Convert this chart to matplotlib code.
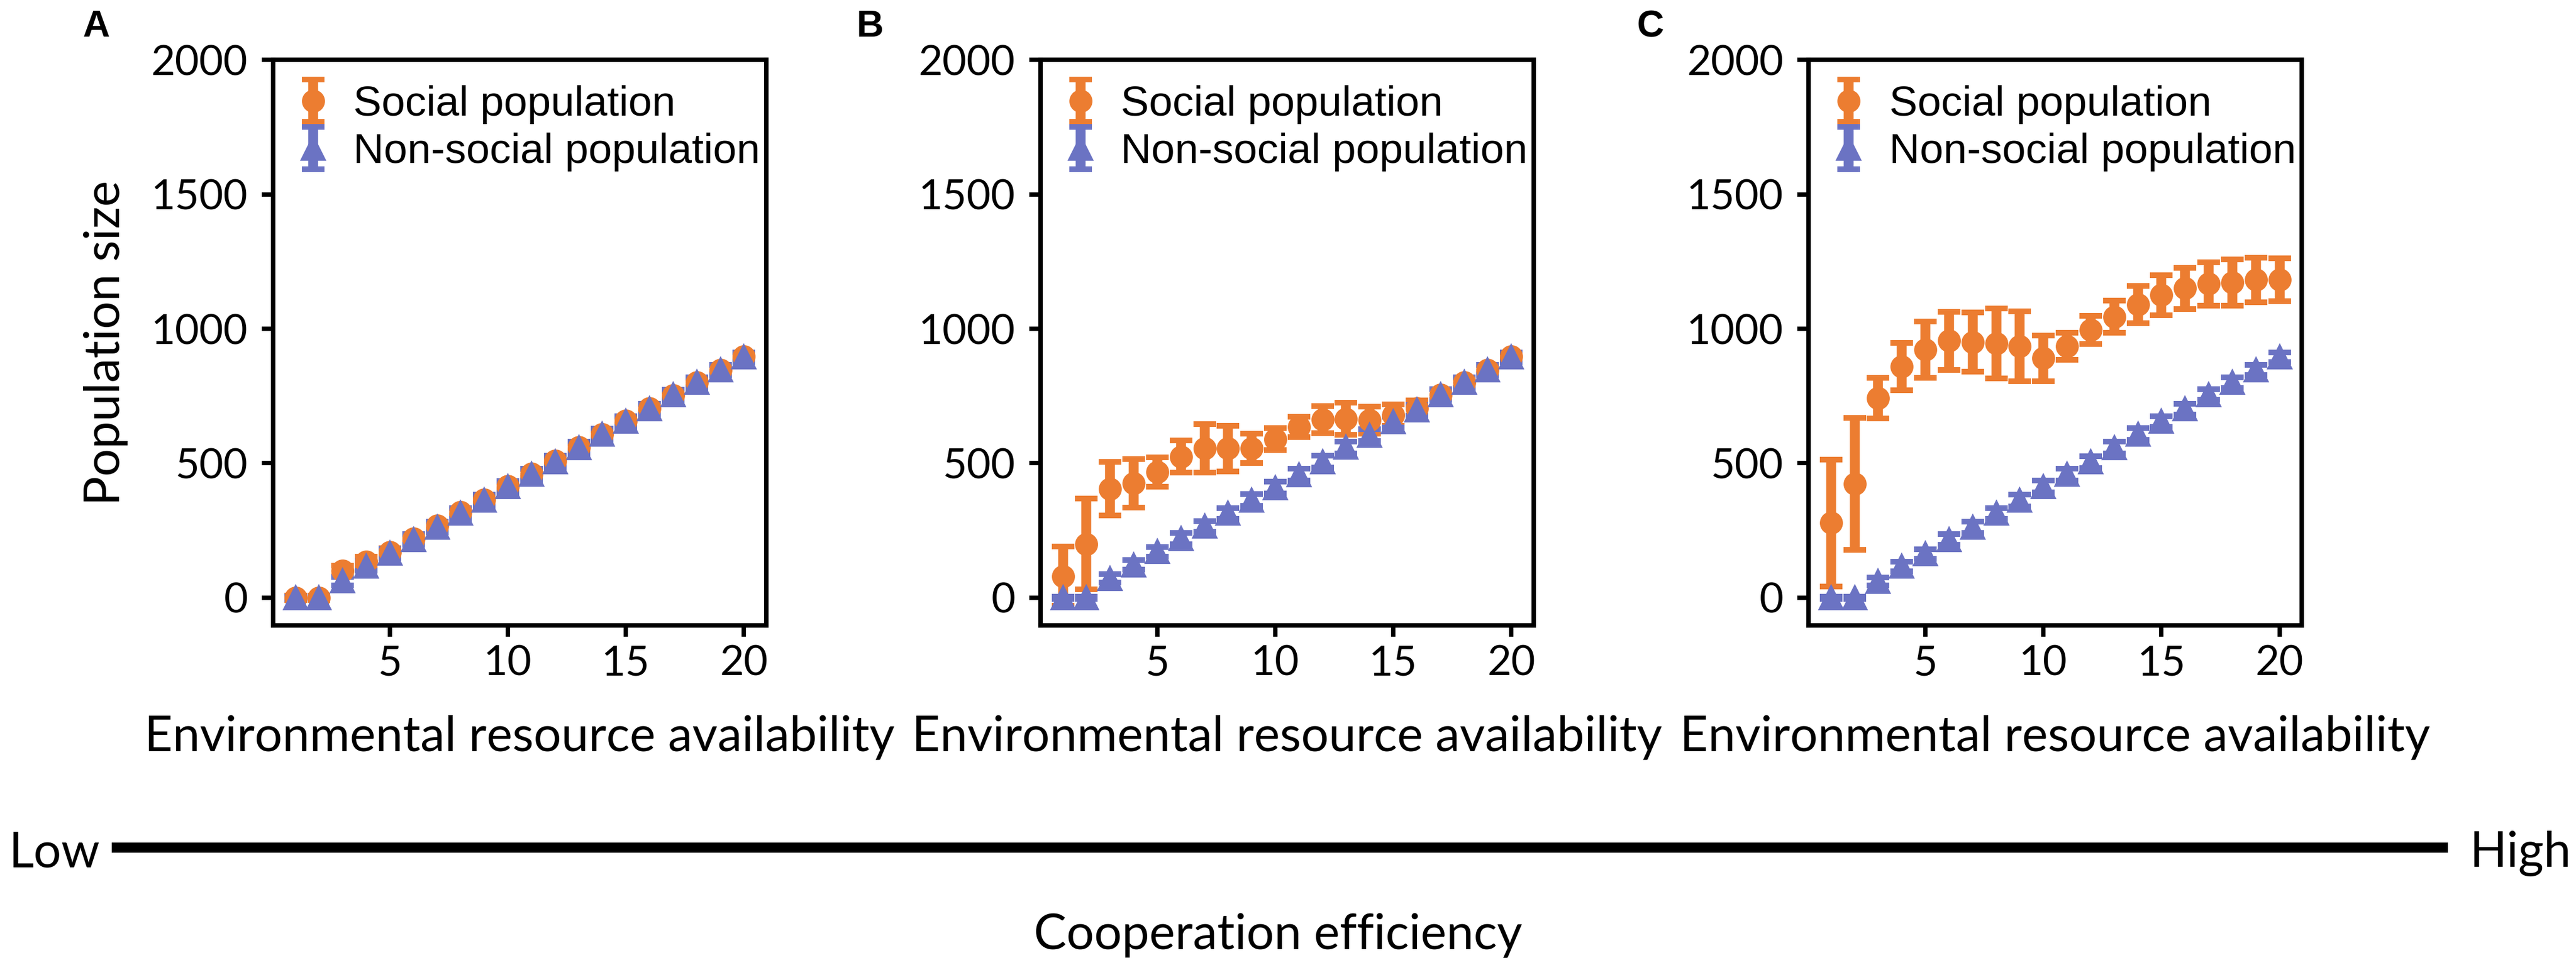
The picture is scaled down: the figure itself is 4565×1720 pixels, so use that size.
import matplotlib
matplotlib.use("Agg")
import matplotlib.pyplot as plt
from matplotlib.font_manager import FontProperties
from matplotlib.lines import Line2D

# x axis: environmental resource availability
x = list(range(1, 21))

# panel A - low cooperation efficiency
social_a = [0, 0, 100, 135, 170, 220, 268, 318, 365, 415, 462, 510, 560, 608, 658, 705, 752, 800, 848, 897]
social_a_err = [8, 8, 20, 18, 15, 15, 15, 15, 15, 15, 15, 15, 15, 15, 15, 15, 15, 15, 15, 15]
nonsocial_a = [0, 0, 62, 118, 165, 216, 263, 314, 362, 412, 459, 506, 558, 607, 656, 702, 754, 800, 847, 895]
nonsocial_a_err = [5, 5, 15, 18, 18, 20, 20, 20, 22, 22, 22, 22, 22, 22, 20, 20, 20, 20, 18, 18]

# panel B - medium cooperation efficiency
social_b = [80, 200, 405, 425, 468, 525, 555, 555, 555, 590, 635, 662, 665, 660, 680, 705, 755, 800, 848, 897]
social_b_err = [110, 168, 100, 90, 55, 60, 90, 85, 55, 40, 38, 50, 60, 50, 40, 28, 20, 18, 15, 15]
nonsocial_b = [0, 0, 72, 122, 171, 220, 266, 314, 363, 409, 457, 506, 559, 604, 654, 698, 755, 800, 847, 895]
nonsocial_b_err = [5, 5, 15, 18, 18, 20, 20, 20, 22, 22, 22, 22, 22, 22, 20, 20, 20, 20, 18, 18]

# panel C - high cooperation efficiency
social_c = [278, 423, 742, 860, 922, 955, 950, 945, 935, 890, 935, 996, 1045, 1090, 1125, 1150, 1167, 1172, 1182, 1182]
social_c_err = [236, 245, 75, 88, 105, 108, 110, 130, 130, 85, 50, 52, 60, 70, 75, 77, 80, 85, 83, 80]
nonsocial_c = [0, 0, 61, 117, 163, 216, 262, 314, 362, 413, 459, 505, 558, 608, 656, 702, 755, 800, 847, 895]
nonsocial_c_err = [5, 5, 15, 18, 18, 20, 20, 20, 22, 22, 22, 22, 22, 22, 20, 20, 20, 20, 18, 18]

ORANGE = '#EC7D31'
BLUE = '#6B73C3'

# axis text is a narrow humanist sans in the original, Lato is the closest fit here
plt.rcParams['font.family'] = ['Lato', 'DejaVu Sans']
tick_fs = 17.7
lab_fs = 20.8

leg_font = FontProperties(family=['Liberation Sans', 'DejaVu Sans'], size=18)
letter_font = FontProperties(family=['Liberation Sans', 'DejaVu Sans'], weight='bold', size=16)

fig = plt.figure(figsize=(4565 / 300, 1720 / 300), dpi=300)

panels = [
    ('A', 0.1060, social_a, social_a_err, nonsocial_a, nonsocial_a_err),
    ('B', 0.4039, social_b, social_b_err, nonsocial_b, nonsocial_b_err),
    ('C', 0.7021, social_c, social_c_err, nonsocial_c, nonsocial_c_err),
]
letter_x = [146, 1517, 2900]

for i, (name, left, soc, soc_err, non, non_err) in enumerate(panels):
    ax = fig.add_axes([left, 0.3552, 0.1915, 0.5831])
    ax.errorbar(x, soc, yerr=soc_err, fmt='o', color=ORANGE, ms=8.8,
                elinewidth=4.2, capsize=4.8, capthick=2.4, label='Social population')
    ax.errorbar(x, non, yerr=non_err, fmt='^', color=BLUE, ms=9.5,
                elinewidth=4.2, capsize=4.8, capthick=2.4, label='Non-social population')
    ax.set_xlim(0.05, 20.95)
    ax.set_ylim(-103, 2000)
    ax.set_xticks([5, 10, 15, 20])
    ax.set_yticks([0, 500, 1000, 1500, 2000])
    for s in ax.spines.values():
        s.set_linewidth(1.9)
    ax.tick_params(axis='both', width=1.85, length=4.7, labelsize=tick_fs)
    ax.tick_params(axis='x', pad=3.5)
    ax.tick_params(axis='y', pad=6)
    ax.set_xlabel('Environmental resource availability', fontsize=lab_fs)
    ax.xaxis.set_label_coords(0.5, -0.1575)
    if i == 0:
        ax.set_ylabel('Population size', fontsize=lab_fs)
        ax.yaxis.set_label_coords(-0.294, 0.5)
    ax.legend(loc='upper left', frameon=False, prop=leg_font, handlelength=0.7,
              handletextpad=0.6, borderaxespad=0.3, borderpad=0.3, labelspacing=0.2)
    fig.text(letter_x[i] / 4565, 1 - 65 / 1720, name, fontproperties=letter_font,
             ha='left', va='baseline')

# cooperation efficiency bar under the panels
bar_y = 1 - 1503 / 1720
fig.add_artist(Line2D([198 / 4565, 4338 / 4565], [bar_y, bar_y], transform=fig.transFigure,
                      color='black', lw=4.3, solid_capstyle='butt'))
fig.text(15 / 4565, 1 - 1537 / 1720, 'Low', fontsize=lab_fs, ha='left', va='baseline')
fig.text(4556 / 4565, 1 - 1537 / 1720, 'High', fontsize=lab_fs, ha='right', va='baseline')
fig.text(2265 / 4565, 1 - 1683 / 1720, 'Cooperation efficiency', fontsize=lab_fs,
         ha='center', va='baseline')

fig.savefig('out.png', dpi=300)
